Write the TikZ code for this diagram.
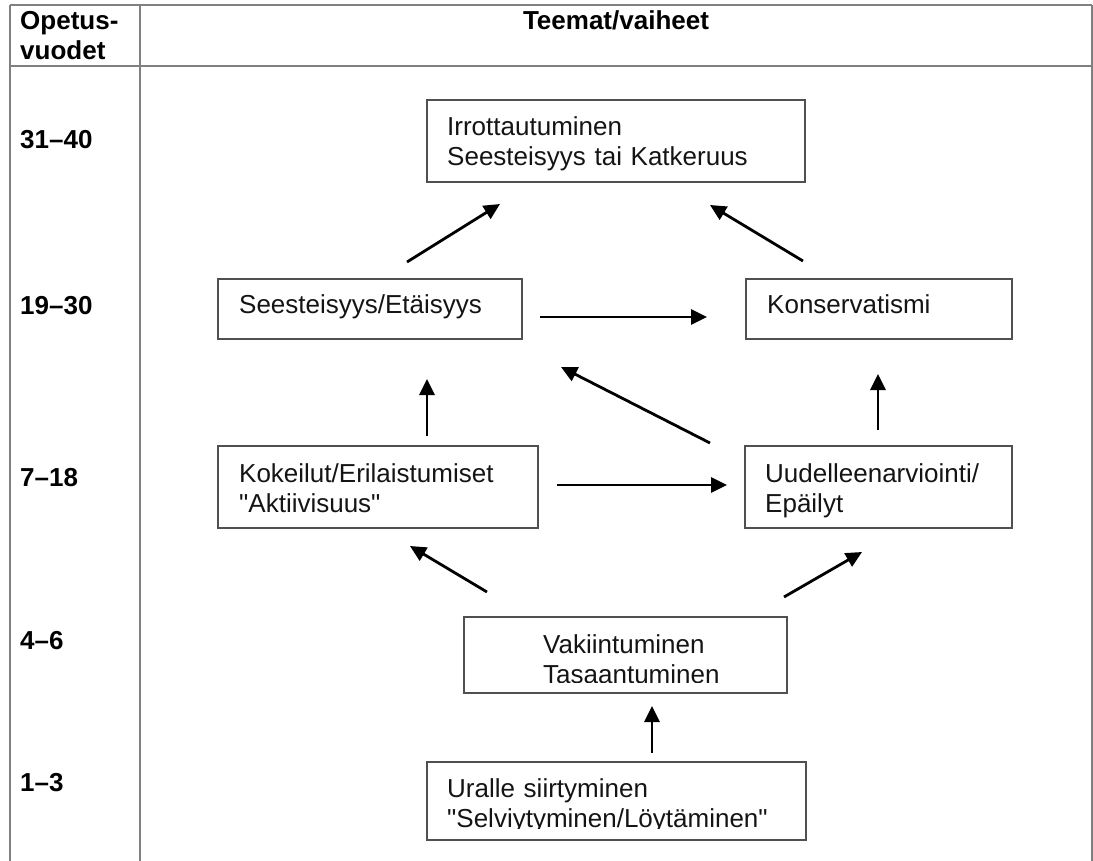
\documentclass[tikz,border=0pt]{standalone}
\usepackage{fontspec}
\setmainfont{Liberation Sans}[Ligatures=TeXOff]
\usetikzlibrary{arrows.meta}
\definecolor{tline}{RGB}{128,128,128}
\definecolor{bline}{RGB}{80,80,80}
\definecolor{txtc}{RGB}{20,20,20}
\begin{document}
\begin{tikzpicture}[x=1pt,y=-1pt,
  tableline/.style={draw=tline, line width=2pt},
  box/.style={draw=bline, line width=1.6pt, inner sep=0pt},
  boxtext/.style={anchor=base west, inner sep=0pt, text width=400pt, align=left, text=txtc, font=\fontsize{26}{30}\selectfont},
  headl/.style={anchor=base west, inner sep=0pt, text width=125pt, align=left, text=black, font=\bfseries\fontsize{26}{29.5}\selectfont},
  headc/.style={anchor=base, inner sep=0pt, text=black, font=\bfseries\fontsize{26}{30}\selectfont},
  arr/.style={-{Triangle[length=16pt,width=15pt]}, line width=2.8pt, black}
]
\useasboundingbox (0,0) rectangle (1093,861);
% table
\draw[tableline] (10,5) -- (1092,5);
\draw[tableline] (10,66) -- (1092,66);
\draw[tableline] (10,5) -- (10,861);
\draw[tableline] (140,5) -- (140,861);
\draw[tableline] (1092,5) -- (1092,861);
% headers
\node[headl] (hyears) at (20,30) {Opetus-\\vuodet};
\node[headc] (hthemes) at (616,30) {Teemat/vaiheet};
% row labels
\node[headl] (r1) at (20,149) {31–40};
\node[headl] (r2) at (20,314) {19–30};
\node[headl] (r3) at (20,486) {7–18};
\node[headl] (r4) at (20,649) {4–6};
\node[headl] (r5) at (20,791) {1–3};
% boxes
\node[box, minimum width=378pt, minimum height=82pt] (irr) at (616,141) {};
\node[boxtext] (irrt) at (447,136) {Irrottautuminen\\Seesteisyys tai Katkeruus};
\node[box, minimum width=304pt, minimum height=60pt] (sees) at (370,309) {};
\node[boxtext] (seest) at (239,313) {Seesteisyys/Etäisyys};
\node[box, minimum width=266pt, minimum height=60pt] (kons) at (879,309) {};
\node[boxtext] (konst) at (767,313) {Konservatismi};
\node[box, minimum width=320pt, minimum height=82pt] (kok) at (378,487) {};
\node[boxtext] (kokt) at (239,482) {Kokeilut/Erilaistumiset\\"Aktiivisuus"};
\node[box, minimum width=267pt, minimum height=82pt] (uud) at (878.5,487) {};
\node[boxtext] (uudt) at (765,482) {Uudelleenarviointi/\\Epäilyt};
\node[box, minimum width=323pt, minimum height=76pt] (vak) at (625.5,655) {};
\begin{scope}
\clip (464,617) rectangle (787,682.5);
\node[boxtext] (vakt) at (543,653) {Vakiintuminen\\Tasaantuminen};
\end{scope}
\node[box, minimum width=379pt, minimum height=78pt] (ural) at (616.5,801) {};
\begin{scope}
\clip (427,762) rectangle (806,828);
\node[boxtext] (uralt) at (447,797) {Uralle siirtyminen\\"Selviytyminen/Löytäminen"};
\end{scope}
% arrow end points
\coordinate (a1s) at (407,262); \coordinate (a1e) at (500,204);
\coordinate (a2s) at (803,261); \coordinate (a2e) at (710,205);
\coordinate (a3s) at (540,317); \coordinate (a3e) at (707,317);
\coordinate (a4s) at (427,436); \coordinate (a4e) at (427,379);
\coordinate (a5s) at (710,443); \coordinate (a5e) at (561,367);
\coordinate (a6s) at (878,430); \coordinate (a6e) at (878,374);
\coordinate (a7s) at (557,485); \coordinate (a7e) at (727,485);
\coordinate (a8s) at (487,592); \coordinate (a8e) at (410,546);
\coordinate (a9s) at (784,597); \coordinate (a9e) at (862,552);
\coordinate (a10s) at (652,753); \coordinate (a10e) at (652,706);
\draw[arr] (a1s) -- (a1e);
\draw[arr] (a2s) -- (a2e);
\draw[arr] (a3s) -- (a3e);
\draw[arr] (a4s) -- (a4e);
\draw[arr] (a5s) -- (a5e);
\draw[arr] (a6s) -- (a6e);
\draw[arr] (a7s) -- (a7e);
\draw[arr] (a8s) -- (a8e);
\draw[arr] (a9s) -- (a9e);
\draw[arr] (a10s) -- (a10e);
\end{tikzpicture}
\end{document}
